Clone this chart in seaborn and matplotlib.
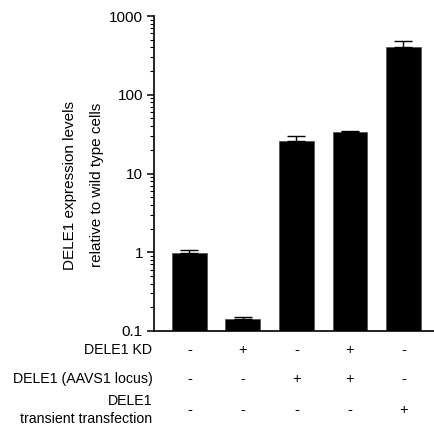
import numpy as np
import pandas as pd
import seaborn as sns
import matplotlib.pyplot as plt

# datos
grupos = ["g1", "g2", "g3", "g4", "g5"]
valores = [0.98, 0.141, 25.7, 33.2, 407]
err_sup = [1.08, 0.150, 29.8, 34.9, 481]

kd = ["-", "+", "-", "+", "-"]
aavs1 = ["-", "-", "+", "+", "-"]
transient = ["-", "-", "-", "-", "+"]
filas = ["DELE1 KD", "DELE1 (AAVS1 locus)", "DELE1\ntransient transfection"]

sns.set_style("ticks", {"axes.edgecolor": "black", "text.color": "black",
                        "xtick.color": "black", "ytick.color": "black"})
plt.rcParams['font.family'] = 'Liberation Sans'

df = pd.DataFrame({"grupo": grupos, "valor": valores})

fig = plt.figure(figsize=(4.34, 4.30), dpi=100)
ax = fig.add_axes([154/434, 1 - 331/430, 1 - 154/434, (331 - 16)/430])

sns.barplot(data=df, x="grupo", y="valor", color="black", edgecolor="#555555",
            linewidth=0.6, width=0.65, ax=ax, saturation=1)

pos = np.arange(len(grupos))
yerr = np.array(err_sup) - np.array(valores)
ax.errorbar(pos, valores, yerr=[np.zeros(len(pos)), yerr], fmt="none",
            ecolor="black", elinewidth=1.0, capsize=6.5, capthick=1.0)

ax.set_yscale("log")
ax.set_ylim(0.1, 1000)
ax.set_xlim(-0.66, 4.57)
ax.set_yticks([0.1, 1, 10, 100, 1000])
ax.set_yticklabels(["0.1", "1", "10", "100", "1000"], fontsize=11)
ax.tick_params(axis="y", which="major", length=5, width=1.1, pad=3, colors="black")
ax.tick_params(axis="y", which="minor", length=3, width=0.8, colors="black")
ax.set_xticks([])
ax.set_xlabel("")
ax.set_ylabel("")
sns.despine(ax=ax)
ax.spines["left"].set_linewidth(1.2)
ax.spines["bottom"].set_linewidth(1.2)

# etiqueta del eje y (dos lineas)
fig.text(70/434, 1 - 185/430, "DELE1 expression levels", rotation=90,
         ha="center", va="center", fontsize=11, color="black")
fig.text(97/434, 1 - 185/430, "relative to wild type cells", rotation=90,
         ha="center", va="center", fontsize=11, color="black")

# tabla de condiciones debajo del eje
trans = ax.get_xaxis_transform()
fila_y = [350, 379, 410]
for etiqueta, signos, yp in zip(filas, [kd, aavs1, transient], fila_y):
    yf = 1 - (yp - 16) / (331 - 16)
    ax.text(-0.69, yf, etiqueta, transform=trans, ha="right", va="center",
            fontsize=10.2, linespacing=1.3, multialignment="right", color="black")
    for p, s in zip(pos, signos):
        ax.text(p, yf, s, transform=trans, ha="center", va="center",
                fontsize=10.5, color="black")

fig.savefig("out.png", dpi=100)
